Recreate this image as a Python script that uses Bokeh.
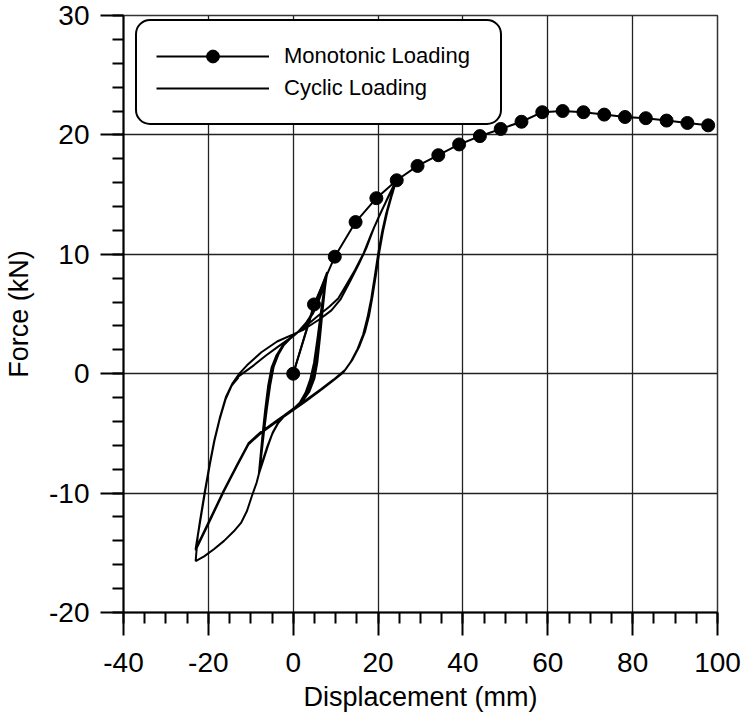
from bokeh.plotting import figure
from bokeh.models import Range1d, SingleIntervalTicker, Legend, LegendItem, CustomJSTickFormatter
from bokeh.embed import file_html
from bokeh.resources import INLINE

# ---------------- data ----------------
mono_x = [0, 4.9, 9.8, 14.7, 19.6, 24.4, 29.3, 34.2, 39.1, 44.0, 48.9,
          53.8, 58.7, 63.5, 68.4, 73.3, 78.2, 83.1, 88.0, 92.9, 97.8]
mono_y = [0, 5.8, 9.8, 12.7, 14.7, 16.2, 17.4, 18.3, 19.2, 19.9, 20.5,
          21.1, 21.9, 22.0, 21.9, 21.7, 21.5, 21.4, 21.2, 21.0, 20.8]

# small cycles (about +/- 8 mm)
small_x = [0, 2.0, 4.0, 6.0, 8.0,
           7.5, 6.9, 6.3, 5.7, 5.0, 3.8, 2.4, 0.5, -1.8, -3.4, -4.8, -6.0, -7.1, -8.1,
           -7.7, -7.2, -6.6, -5.9, -5.1, -4.0, -2.6, -0.8, 1.2, 3.0, 4.6, 5.8, 6.8, 8.0,
           7.4, 6.7, 6.0, 5.3, 4.5, 3.3, 2.0, 0.2, -2.0, -3.5, -4.9, -6.1, -7.1, -8.0,
           -7.5, -6.9, -6.2, -5.4, -4.6, -3.5, -2.2, -0.5, 1.4, 3.1, 4.6, 5.8, 6.8, 7.9,
           7.3, 6.5, 5.7, 4.9, 4.0, 2.9, 1.6, -0.1, -2.2, -3.7, -5.0, -6.2, -7.2, -8.1]
small_y = [0, 2.3, 4.6, 6.6, 8.5,
           7.2, 5.2, 3.0, 1.0, -0.4, -1.5, -2.2, -2.8, -3.4, -4.0, -4.9, -6.1, -7.3, -8.4,
           -6.9, -5.0, -3.0, -1.0, 0.5, 1.5, 2.3, 2.9, 3.5, 4.2, 5.0, 5.9, 6.9, 8.5,
           7.2, 5.2, 3.0, 1.0, -0.4, -1.5, -2.3, -2.9, -3.5, -4.1, -5.0, -6.1, -7.2, -8.3,
           -6.8, -4.9, -2.9, -0.9, 0.6, 1.6, 2.4, 3.0, 3.6, 4.3, 5.1, 6.0, 7.0, 8.4,
           7.1, 5.1, 2.9, 0.9, -0.5, -1.6, -2.4, -3.0, -3.6, -4.2, -5.1, -6.2, -7.3, -8.4]

# envelope to the first large negative excursion
env_x = [-8.6, -9.7, -10.9, -12.3, -14.0, -16.3, -18.7, -21.0, -23.0]
env_y = [-9.1, -10.2, -11.5, -12.5, -13.2, -14.0, -14.7, -15.3, -15.7]

# large cycles (about -23 / +24 mm)
big_x = [-22.5, -21.8, -20.7, -19.6, -18.5, -17.2, -15.8, -14.3, -12.7,
         -10.9, -7.5, -3.8, 0.0, 2.5, 6.4, 9.0, 11.1, 13.5, 15.5, 17.2, 19.0, 20.8, 22.5, 24.3,
         23.3, 22.2, 21.2, 20.3, 19.5, 18.7, 17.9, 16.9, 15.6, 14.0, 12.2, 9.5, 6.5, 3.0,
         -0.6, -3.8, -7.7, -10.5, -13.2, -16.4, -19.9, -23.0,
         -21.9, -20.8, -19.7, -18.6, -17.3, -15.9, -14.4, -12.8,
         -9.3, -6.5, -3.8, 0.1, 3.0, 6.0, 8.5, 10.6, 12.6, 14.6, 16.6, 18.5, 20.5, 22.4, 24.2,
         23.0, 21.9, 20.9, 20.0, 19.2, 18.4, 17.5, 16.5, 15.2, 13.6, 11.8, 9.3, 6.4, 3.0,
         -0.6, -3.8, -7.7, -10.5, -13.2, -16.4, -19.9, -23.0,
         -22.0, -20.9, -19.8, -18.7, -17.4, -16.0, -14.5, -12.9]
big_y = [-13.6, -12.1, -9.7, -7.5, -5.5, -3.6, -1.9, -0.8, 0.0,
         0.7, 1.8, 2.7, 3.3, 3.7, 4.6, 5.3, 6.2, 7.8, 9.2, 10.5, 12.2, 13.6, 14.9, 16.2,
         15.0, 13.6, 12.0, 10.2, 8.3, 6.5, 4.9, 3.5, 2.3, 1.2, 0.3, -0.5, -1.3, -2.2,
         -3.1, -3.9, -4.9, -5.8, -7.6, -9.8, -12.4, -14.7,
         -12.2, -9.8, -7.6, -5.6, -3.7, -2.0, -0.9, -0.2,
         0.7, 1.5, 2.2, 3.2, 4.0, 4.9, 5.6, 6.3, 7.5, 8.7, 10.1, 11.8, 13.4, 14.8, 16.1,
         14.8, 13.4, 11.8, 10.0, 8.1, 6.3, 4.7, 3.3, 2.1, 1.0, 0.1, -0.6, -1.4, -2.3,
         -3.2, -4.0, -5.0, -5.9, -7.7, -9.9, -12.5, -14.8,
         -12.4, -10.0, -7.8, -5.8, -3.9, -2.2, -1.0, -0.3]

x_ticks_interval = 20
y_ticks_interval = 10
label_mono = "Monotonic Loading"
label_cyc = "Cyclic Loading"

cyc_x = small_x + env_x + big_x
cyc_y = small_y + env_y + big_y

FONT = "Liberation Sans"

p = figure(width=743, height=715, x_range=Range1d(-40, 100), y_range=Range1d(-20, 30),
           output_backend="svg", toolbar_location=None,
           min_border_left=123, min_border_right=26, min_border_top=15, min_border_bottom=103,
           background_fill_color="white", border_fill_color="white")

p.xaxis.ticker = SingleIntervalTicker(interval=x_ticks_interval, num_minor_ticks=4)
p.yaxis.ticker = SingleIntervalTicker(interval=y_ticks_interval, num_minor_ticks=5)
p.xaxis.axis_label = "Displacement (mm)"
p.yaxis.axis_label = "Force (kN)"

for ax in (p.xaxis, p.yaxis):
    ax.formatter = CustomJSTickFormatter(code="return tick.toString();")
    ax.axis_line_width = 2
    ax.axis_line_color = "black"
    ax.major_tick_line_width = 2
    ax.minor_tick_line_width = 2
    ax.major_tick_line_color = "black"
    ax.minor_tick_line_color = "black"
    ax.major_tick_out = 23
    ax.major_tick_in = 0
    ax.minor_tick_out = 11
    ax.minor_tick_in = 0
    ax.major_label_text_font = FONT
    ax.major_label_text_font_size = "28px"
    ax.major_label_text_color = "black"
    ax.major_label_standoff = 12
    ax.axis_label_text_font = FONT
    ax.axis_label_text_font_size = "27px"
    ax.axis_label_text_font_style = "normal"
    ax.axis_label_text_color = "black"
p.xaxis.major_label_standoff = 17
p.xaxis.axis_label_standoff = 7
p.yaxis.major_label_standoff = 11
p.yaxis.axis_label_standoff = 12

p.grid.grid_line_color = "#222222"
p.grid.grid_line_width = 1.3
p.outline_line_color = "#333333"
p.outline_line_width = 1.5

cyc_line = p.line(cyc_x, cyc_y, line_color="black", line_width=2)
mono_line = p.line(mono_x, mono_y, line_color="black", line_width=2)
mono_pts = p.scatter(mono_x, mono_y, size=13, marker="circle",
                     fill_color="black", line_color="black")

legend = Legend(items=[LegendItem(label=label_mono, renderers=[mono_line, mono_pts]),
                       LegendItem(label=label_cyc, renderers=[cyc_line])],
                location=(12, 487),
                glyph_width=113, glyph_height=32, label_height=28,
                label_standoff=15, label_width=197,
                padding=19, spacing=0,
                label_text_font=FONT, label_text_font_size="22px", label_text_color="black",
                border_line_color="black", border_line_width=2, border_line_alpha=1.0,
                background_fill_color="white", background_fill_alpha=1.0)
if "border_radius" in Legend.properties():
    legend.border_radius = 15
p.add_layout(legend)

open("out.html", "w").write(file_html(p, INLINE))
